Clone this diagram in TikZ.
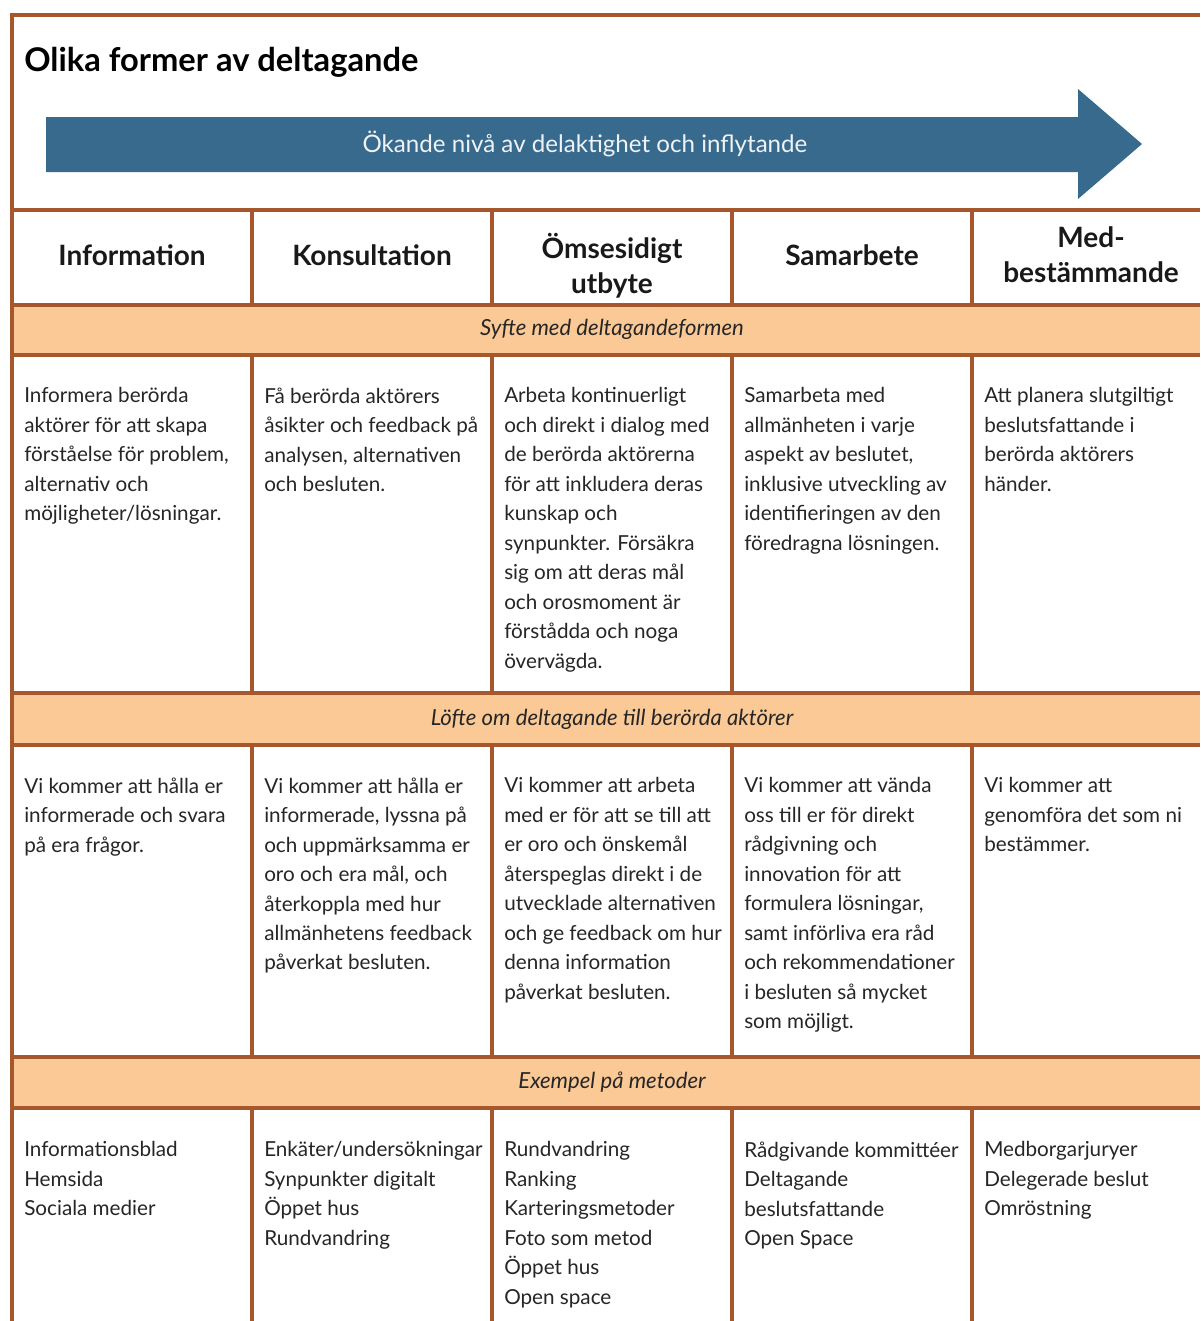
\documentclass[tikz,border=0pt]{standalone}
\usepackage{fontspec}
\setmainfont{Lato}
\usetikzlibrary{positioning}
\definecolor{frame}{RGB}{166,88,44}
\definecolor{band}{RGB}{251,201,150}
\definecolor{arrowblue}{RGB}{56,106,141}
\tikzset{
  rule/.style={draw=frame, line width=3pt},
  cell/.style={anchor=north west, align=left, inner sep=0pt, text=black!85, font=\fontsize{15.5}{22.1}\selectfont, execute at begin node=\strut},
  head/.style={anchor=north, align=center, inner sep=0pt, text=black!90, font=\bfseries\fontsize{21}{26.2}\selectfont, execute at begin node=\strut},
  bandtext/.style={inner sep=0pt, text=black!85, font=\itshape\fontsize{16.6}{20}\selectfont},
}
\begin{document}
\begin{tikzpicture}[x=0.75pt,y=-0.75pt]
\useasboundingbox (0,0) rectangle (1200,1321);
\fill[white] (0,0) rectangle (1200,1321);

\node[anchor=west, inner sep=0pt, font=\bfseries\fontsize{24.5}{28}\selectfont] (title) at (24,62) {Olika former av deltagande};

\fill[arrowblue] (46,117) -- (1078,117) -- (1078,89) -- (1142,144) -- (1078,199) -- (1078,172) -- (46,172) -- cycle;
\node[inner sep=0pt, text=white!92!arrowblue, font=\fontsize{18.1}{22}\selectfont] (trend) at (585,144) {Ökande nivå av delaktighet och inflytande};

\fill[band] (12,305) rectangle (1200,355);
\fill[band] (12,693) rectangle (1200,745);
\fill[band] (12,1057) rectangle (1200,1108);

\draw[rule] (12,1321) -- (12,15) -- (1200,15);
\foreach \y in {210,305,355,693,745,1057,1108}
  \draw[rule] (12,\y) -- (1200,\y);
\foreach \x in {252,492,732,972} {
  \draw[rule] (\x,210) -- (\x,305);
  \draw[rule] (\x,355) -- (\x,693);
  \draw[rule] (\x,745) -- (\x,1057);
  \draw[rule] (\x,1108) -- (\x,1321);
}

\node[head] (h1) at (132,240.5) {Information};
\node[head] (h2) at (372,240.5) {Konsultation};
\node[head] (h3) at (612,233) {Ömsesidigt\\utbyte};
\node[head] (h4) at (852,240.5) {Samarbete};
\node[head] (h5) at (1091,226) {Med-\\bestämmande};

\node[bandtext] (syfte) at (612,329) {Syfte med deltagandeformen};
\node[bandtext] (lofte) at (612,719) {Löfte om deltagande till berörda aktörer};
\node[bandtext] (exempel) at (612,1082) {Exempel på metoder};

\node[cell] (s1) at (24,387.4) {Informera berörda\\aktörer för att skapa\\förståelse för problem,\\alternativ och\\möjligheter/lösningar.};
\node[cell] (s2) at (264,387.4) {Få berörda aktörers\\åsikter och feedback på\\analysen, alternativen\\och besluten.};
\node[cell] (s3) at (504,387.4) {Arbeta kontinuerligt\\och direkt i dialog med\\de berörda aktörerna\\för att inkludera deras\\kunskap och\\synpunkter. Försäkra\\sig om att deras mål\\och orosmoment är\\förstådda och noga\\övervägda.};
\node[cell] (s4) at (744,387.4) {Samarbeta med\\allmänheten i varje\\aspekt av beslutet,\\inklusive utveckling av\\identifieringen av den\\föredragna lösningen.};
\node[cell] (s5) at (984,387.4) {Att planera slutgiltigt\\beslutsfattande i\\berörda aktörers\\händer.};

\node[cell] (l1) at (24,777.4) {Vi kommer att hålla er\\informerade och svara\\på era frågor.};
\node[cell] (l2) at (264,777.4) {Vi kommer att hålla er\\informerade, lyssna på\\och uppmärksamma er\\oro och era mål, och\\återkoppla med hur\\allmänhetens feedback\\påverkat besluten.};
\node[cell] (l3) at (504,777.4) {Vi kommer att arbeta\\med er för att se till att\\er oro och önskemål\\återspeglas direkt i de\\utvecklade alternativen\\och ge feedback om hur\\denna information\\påverkat besluten.};
\node[cell] (l4) at (744,777.4) {Vi kommer att vända\\oss till er för direkt\\rådgivning och\\innovation för att\\formulera lösningar,\\samt införliva era råd\\och rekommendationer\\i besluten så mycket\\som möjligt.};
\node[cell] (l5) at (984,777.4) {Vi kommer att\\genomföra det som ni\\bestämmer.};

\node[cell] (e1) at (24,1141.4) {Informationsblad\\Hemsida\\Sociala medier};
\node[cell] (e2) at (264,1141.4) {Enkäter/undersökningar\\Synpunkter digitalt\\Öppet hus\\Rundvandring};
\node[cell] (e3) at (504,1141.4) {Rundvandring\\Ranking\\Karteringsmetoder\\Foto som metod\\Öppet hus\\Open space};
\node[cell] (e4) at (744,1141.4) {Rådgivande kommittéer\\Deltagande\\beslutsfattande\\Open Space};
\node[cell] (e5) at (984,1141.4) {Medborgarjuryer\\Delegerade beslut\\Omröstning};
\end{tikzpicture}
\end{document}
